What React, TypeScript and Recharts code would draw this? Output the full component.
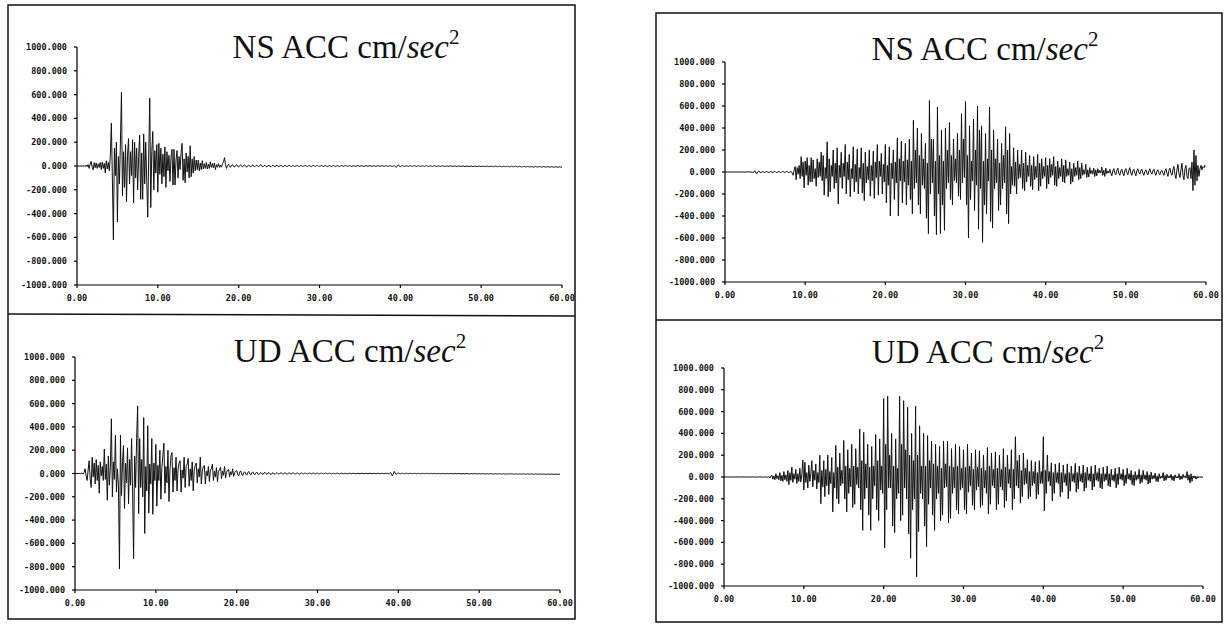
import React from "react";
import { LineChart, Line, XAxis, YAxis } from "recharts";

// sampling interval of the digitised records (seconds); one row = one second
const DT = 0.125;
const X_TICKS = [0, 10, 20, 30, 40, 50, 60];
const Y_TICKS = [-1000, -800, -600, -400, -200, 0, 200, 400, 600, 800, 1000];

// Left record, NS component (cm/sec^2)
const NS_LEFT = [
  0, 2, -3, 2, -4, 3, -2, 4,
  -5, 8, -6, 12, -20, 15, 38, -10,
  -32, 28, -14, 26, -20, 18, -12, 30,
  -30, 34, -20, 22, -58, 44, -25, 30,
  -40, 90, 360, -100, -620, 150, -80, 200,
  -470, 80, -150, 210, 620, -250, 120, -180,
  180, -300, 90, 230, -150, 120, -80, 220,
  -310, 200, -100, 150, -200, 80, 260, -280,
  110, -280, 270, -150, 200, -120, -430, 100,
  570, -350, 120, 290, -200, 130, -60, 180,
  -220, 190, -70, 150, -150, 100, -90, 160,
  -180, 120, -40, 90, -130, 70, 140, -160,
  140, -160, 50, 130, -100, 80, -30, 110,
  190, -120, 60, -140, 110, -50, 80, -100,
  170, -90, 60, -60, 80, -40, 50, -30,
  50, -40, 25, -30, 45, -25, 20, -20,
  30, -25, 15, -20, 35, -12, 20, -15,
  25, -30, 12, -10, 20, -12, 8, -10,
  20, 35, 70, 10, -20, 5, 15, -6,
  -10, 6, 12, -4, -8, 5, 10, -3,
  -9, 4, 11, -3, -7, 5, 8, -4,
  -10, 3, 6, -2, -8, 4, 9, -3,
  -6, 3, 7, -2, -5, 6, 12, -3,
  -7, 2, 6, -3, -8, 3, 5, -2,
  -6, 3, 7, -2, -5, 2, 6, -2,
  -4, 2, 5, -3, -6, 2, 4, -1,
  -5, 3, 6, -2, -4, 1, 5, -2,
  -3, 2, 4, -2, -5, 2, 4, -1,
  -3, 2, 5, -2, -4, 1, 3, -1,
  -5, 2, 4, -1, -3, 2, 4, -1,
  -3, 1, 4, -2, -4, 1, 3, -1,
  -5, 1, 3, -2, -3, 2, 4, -1,
  -3, 1, 2, -1, -4, 1, 3, -1,
  -2, 2, 4, -1, -3, 1, 3, -1,
  -4, 1, 2, -1, -3, 1, 3, -1,
  -3, 1, 2, -1, -4, 1, 3, -1,
  -2, 1, 3, -1, -3, 1, 2, -1,
  -3, 1, 3, -1, -2, 1, 3, -1,
  -4, 1, 2, -1, -3, 1, 2, -1,
  -3, 0, 3, -4, -12, 2, 10, -2,
  -6, 1, 4, -1, -3, 0, 2, -1,
  -3, 0, 2, -1, -2, 0, 3, -1,
  -4, 0, 2, -1, -3, 0, 1, -1,
  -3, 0, 2, -1, -4, 0, 1, -1,
  -3, 0, 2, -1, -4, 0, 1, -2,
  -3, 0, 1, -1, -4, -1, 0, -2,
  -3, -1, 1, -1, -4, -1, 0, -2,
  -5, -1, 1, -2, -4, -1, 0, -2,
  -5, -2, 0, -2, -4, -2, -1, -3,
  -5, -2, 0, -3, -6, -2, -1, -3,
  -5, -3, -2, -3, -6, -3, -1, -4,
  -5, -3, -2, -4, -7, -3, -1, -4,
  -6, -3, -2, -4, -7, -4, -2, -4,
  -6, -4, -3, -5, -8, -4, -2, -5,
  -7, -4, -3, -5, -8, -5, -3, -5,
  -9, -5, -4, -6, -8, -5, -4, -6,
  -9, -6, -5, -7, -10, -6, -4, -7,
  -9, -6, -5, -7, -10, -6, -5, -7,
  -11, -7, -5, -8, -10, -7, -6, -8,
  -11, -7, -6, -8, -12, -8, -6, -9,
  -12,
];

// Left record, UD component
const UD_LEFT = [
  0, 0, 1, -1, 2, -3, 1, 5,
  -4, 10, 40, -20, -60, 30, 110, -40,
  -120, 140, -30, 90, -90, 120, -60, 70,
  -170, 100, -20, 60, -60, 210, -50, 80,
  -230, 150, -100, 60, 470, -200, 100, -50,
  330, -160, 40, -100, -820, 330, -190, 90,
  240, -300, 90, -80, 220, -260, 120, -100,
  300, -150, -730, 150, -120, 300, 580, -345,
  300, -120, 120, -200, 480, -515, 60, -150,
  410, -340, 80, -90, 300, -350, 90, -60,
  250, -280, 70, -60, 200, -220, 50, 160,
  260, -170, 60, -80, 200, -240, 30, 150,
  180, -160, 50, -60, 140, -150, 40, 90,
  110, -160, 30, -40, 140, -120, 60, 80,
  130, -110, 40, -60, 100, -150, 30, 70,
  90, -80, 40, -30, 140, -90, 20, 60,
  70, -90, 20, -20, 60, -70, 30, 40,
  80, -60, 20, -30, 50, -70, 20, 30,
  55, -45, 20, -15, 60, -40, 10, 30,
  35, -30, 15, -10, 40, -25, 8, 20,
  25, -8, -20, 10, 22, -6, -18, 6,
  15, -5, -14, 8, 18, -4, -12, 5,
  14, -3, -10, 5, 12, -4, -10, 3,
  9, -3, -8, 4, 10, -2, -7, 3,
  8, -2, -9, 3, 6, -3, -7, 2,
  8, -2, -6, 3, 7, -1, -5, 2,
  6, -2, -6, 2, 5, -1, -4, 2,
  6, -1, -5, 2, 4, -1, -5, 1,
  5, -1, -4, 2, 3, -1, -4, 1,
  5, -1, -3, 1, 4, -1, -3, 1,
  3, -1, -4, 1, 3, -1, -3, 1,
  4, -1, -2, 1, 3, -1, -3, 1,
  2, -1, -3, 1, 3, -1, -2, 1,
  3, -1, -3, 1, 2, -1, -2, 0,
  3, -1, -2, 1, 2, -1, -3, 0,
  2, -1, -2, 1, 3, 0, -2, 0,
  2, -1, -3, 1, 2, 0, -2, 0,
  3, -1, -2, 1, 2, 0, -2, 0,
  3, -1, -2, 1, 2, 0, -3, 0,
  8, 2, -20, -6, 18, 4, -8, 1,
  4, 0, -3, 1, 2, 0, -2, 0,
  3, 0, -2, 0, 2, 0, -1, 0,
  2, 0, -2, 0, 1, 0, -2, 0,
  2, 0, -1, 0, 1, 0, -2, 0,
  1, 0, -2, 0, 1, -1, -2, 0,
  0, -1, -2, -1, 1, -1, -3, -1,
  0, -1, -2, -1, 0, -1, -3, -1,
  0, -1, -3, -1, 0, -2, -3, -1,
  -1, -2, -3, -1, 0, -2, -4, -2,
  -1, -2, -3, -2, -1, -2, -4, -2,
  -2, -2, -4, -2, -1, -3, -5, -2,
  -2, -3, -4, -2, -2, -3, -5, -3,
  -2, -3, -5, -3, -3, -3, -5, -3,
  -2, -4, -6, -3, -3, -4, -5, -3,
  -3, -4, -6, -4, -3, -4, -6, -4,
  -4, -4, -6, -4, -3, -5, -7, -4,
  -4, -5, -6, -4, -4, -5, -7, -4,
  -4, -5, -7, -5, -5, -5, -7, -5,
  -4, -6, -8, -5, -5, -6, -7, -5,
  -5, -6, -8, -5, -5, -6, -8, -6,
  -6,
];

// Right record, NS component
const NS_RIGHT = [
  0, 1, -1, 2, -2, 1, -1, 2,
  -2, 1, -2, 3, -3, 2, -1, 2,
  -3, 2, -2, 1, -3, 2, -2, 3,
  -2, 3, -4, 2, -8, 6, 10, -12,
  -12, 4, 8, -5, -5, 2, 3, -3,
  -3, 2, 4, -3, -5, 3, 3, -2,
  -4, 3, 6, -3, -5, 2, 4, -3,
  -6, 4, 5, -3, -4, 3, 6, -4,
  -7, 3, 5, -10, -30, 20, 50, -70,
  40, -20, 60, -60, 140, -40, 90, -145,
  100, -30, 130, -120, 60, -90, 130, -90,
  110, -60, 30, -130, 120, -50, 90, -40,
  180, -80, 150, -210, 40, -60, 275, -225,
  120, -180, 60, -40, 200, -150, 80, -100,
  220, -290, 60, -50, 180, -150, 80, -40,
  250, -200, 90, -70, 160, -225, 30, -60,
  230, -180, 70, -90, 210, -200, 40, -60,
  220, -190, 80, -260, 180, -100, 50, -70,
  200, -220, 60, -80, 190, -240, 90, -50,
  250, -210, 100, -40, 170, -200, 70, -90,
  250, -280, 60, -120, 230, -400, 80, -60,
  200, -250, 90, -100, 310, -400, 120, -80,
  280, -280, 100, -90, 260, -300, 110, -120,
  300, -250, 100, -380, 470, -150, 200, -100,
  400, -300, 150, -380, 350, -120, 120, -150,
  260, -420, 80, -560, 650, -200, 300, -100,
  300, -400, 100, -570, 590, -200, 150, -560,
  380, -300, 100, -530, 400, -150, 200, -100,
  450, -250, 150, -300, 300, -80, 120, -100,
  350, -220, 200, -250, 530, -100, 300, -50,
  640, -300, 150, -600, 420, -250, 100, -80,
  480, -350, 200, -120, 600, -520, 380, -150,
  420, -640, 100, -300, 350, -380, 120, -80,
  590, -450, 200, -510, 380, -150, 120, -100,
  300, -350, 80, -300, 260, -150, 150, -100,
  410, -380, 200, -470, 350, -200, 50, -120,
  220, -130, 90, -200, 200, -60, 70, -50,
  200, -150, 80, -170, 180, -90, 60, -40,
  150, -130, 60, -160, 140, -70, 50, -50,
  160, -170, 80, -130, 120, -60, 50, -40,
  130, -150, 60, -110, 120, -50, 70, -30,
  140, -120, 50, -130, 100, -60, 40, -40,
  120, -90, 60, -100, 110, -40, 30, -30,
  90, -110, 30, -90, 80, -40, 40, -30,
  100, -70, 40, -60, 80, -30, 20, -20,
  70, -50, 20, -45, 40, -15, 15, -20,
  35, -40, 20, -35, 30, -10, 15, -10,
  45, -30, 15, -40, 35, -15, 10, -10,
  25, -10, -35, 10, 30, -10, -25, 15,
  35, -10, -30, 10, 25, -10, -35, 10,
  30, -5, -25, 15, 40, -10, -30, 10,
  25, -10, -35, 10, 30, -5, -20, 10,
  25, -10, -30, 5, 20, -10, -25, 10,
  30, -5, -20, 10, 25, -10, -30, 5,
  20, -10, -25, 5, 15, -10, -30, 10,
  30, -10, -40, 15, 35, -10, -30, 20,
  50, -20, -60, 20, 70, -15, -50, 20,
  80, -30, -70, 30, 60, -40, -60, 30,
  40, -60, 90, -170, 200, -120, 150, -80,
  60, -40, 30, 60, 20, 50, 40, 60,
  50,
];

// Right record, UD component
const UD_RIGHT = [
  0, 1, -1, 1, -1, 1, -1, 1,
  -1, 1, -2, 1, -1, 2, -1, 1,
  -2, 1, -1, 2, -1, 1, -2, 1,
  -1, 2, -2, 1, -1, 2, -1, 1,
  -2, 1, -2, 2, -1, 2, -2, 1,
  -2, 3, -3, 2, -4, 5, -10, 8,
  15, -20, 10, -25, 30, -15, 12, -25,
  40, -35, 15, -40, 50, -25, 20, -40,
  60, -70, 40, -30, 90, -50, 30, -20,
  70, -60, 30, -40, 80, -45, 20, 155,
  -120, 135, -50, 40, -100, 110, -40, 30,
  150, -90, 60, -30, 120, -110, 40, -50,
  200, -245, 60, -90, 150, -180, 70, -80,
  200, -160, 50, -60, 180, -320, 40, -100,
  290, -200, 90, -245, 220, -80, 60, -60,
  335, -200, 100, -320, 250, -150, 80, -90,
  300, -280, 100, -250, 260, -70, 90, -100,
  440, -300, 150, -490, 410, -200, 120, -100,
  300, -350, 90, -490, 280, -200, 100, -80,
  390, -300, 150, -400, 350, -120, 100, -150,
  720, -650, 300, -300, 740, -100, 200, -100,
  400, -450, 100, -510, 350, -200, 80, -150,
  740, -400, 300, -350, 700, -100, 250, -200,
  640, -520, 200, -745, 400, -300, 150, -200,
  650, -915, 200, -500, 470, -150, 100, -200,
  400, -450, 100, -640, 380, -250, 150, -100,
  330, -350, 120, -490, 300, -200, 100, -150,
  280, -400, 80, -350, 330, -100, 120, -90,
  330, -420, 100, -380, 260, -150, 90, -100,
  300, -300, 100, -340, 280, -120, 80, -100,
  250, -300, 90, -340, 300, -140, 100, -80,
  220, -260, 70, -300, 250, -120, 90, -90,
  240, -280, 80, -260, 200, -100, 60, -150,
  270, -340, 100, -250, 220, -80, 70, -100,
  230, -300, 80, -250, 200, -90, 70, -120,
  260, -280, 90, -220, 200, -60, 70, -100,
  250, -300, 70, -200, 370, -80, 150, -100,
  200, -240, 60, -180, 220, -70, 80, -60,
  160, -200, 50, -180, 150, -80, 50, -60,
  140, -200, 40, -160, 150, -60, 50, -60,
  370, -310, 60, -150, 200, -40, 50, -80,
  130, -220, 40, -150, 120, -50, 40, -60,
  130, -180, 40, -140, 110, -50, 30, -80,
  120, -200, 40, -130, 100, -40, 30, -50,
  125, -140, 40, -110, 100, -40, 30, -50,
  110, -130, 40, -100, 90, -30, 30, -40,
  100, -120, 30, -90, 110, -30, 40, -40,
  80, -100, 30, -110, 90, -40, 30, -30,
  100, -80, 30, -90, 70, -30, 20, -40,
  80, -100, 30, -70, 90, -20, 30, -30,
  70, -80, 20, -60, 80, -20, 30, -30,
  60, -70, 20, -80, 50, -30, 20, -20,
  70, -60, 20, -50, 60, -20, 20, -30,
  50, -65, 20, -55, 45, -20, 15, -15,
  35, -40, 10, -45, 30, -15, 10, -10,
  40, -35, 15, -30, 25, -10, 10, -10,
  25, -30, 10, -35, 20, -10, 5, -10,
  30, -25, 10, -20, 25, -5, 10, -10,
  50, -30, 20, -55, 30, -40, 10, -10,
  10, -20, 5, -10, 5, -5, 3, -2,
  0,
];

const ML = 70;
const MR = 22;
const MT = 10;
const MB = 30;

const tickStyle = {
  fill: "#111",
  fontSize: 8.5,
  fontFamily: "DejaVu Sans Mono",
  fontWeight: "bold" as const,
};

type PanelProps = { values: number[]; l: number; t: number; r: number; b: number };

function Panel({ values, l, t, r, b }: PanelProps) {
  const w = r - l + ML + MR;
  const h = b - t + MT + MB;
  const data = values.map((v, i) => ({ t: i * DT, v }));
  return (
    <div style={{ position: "absolute", left: l - ML, top: t - MT }}>
      <LineChart width={w} height={h} data={data} margin={{ top: MT, right: MR, bottom: 0, left: 0 }}>
        <XAxis
          dataKey="t"
          type="number"
          domain={[0, 60]}
          ticks={X_TICKS}
          interval={0}
          allowDataOverflow
          tickFormatter={(v: number) => v.toFixed(2)}
          height={MB}
          tickSize={3}
          tickMargin={7}
          stroke="#000"
          strokeWidth={1.2}
          tick={tickStyle}
        />
        <YAxis
          type="number"
          domain={[-1000, 1000]}
          ticks={Y_TICKS}
          interval={0}
          allowDataOverflow
          tickFormatter={(v: number) => v.toFixed(3)}
          width={ML}
          tickSize={3}
          tickMargin={7}
          stroke="#000"
          strokeWidth={1.2}
          tick={tickStyle}
        />
        <Line
          type="linear"
          dataKey="v"
          stroke="#111"
          strokeWidth={1}
          dot={false}
          isAnimationActive={false}
        />
      </LineChart>
    </div>
  );
}

function Title({ x, y, label }: { x: number; y: number; label: string }) {
  return (
    <text x={x} y={y} textAnchor="middle" fontFamily="Liberation Serif" fontSize={33} fill="#111">
      {label + " ACC cm/"}
      <tspan fontStyle="italic">sec</tspan>
      <tspan fontSize={21} dy={-14}>2</tspan>
    </text>
  );
}

export default function App() {
  return (
    <div style={{ position: "absolute", left: 0, top: 0, width: 1226, height: 624, background: "#fff", overflow: "hidden" }}>
      <Panel values={NS_LEFT} l={77} t={47} r={562} b={285} />
      <Panel values={UD_LEFT} l={75} t={357} r={560} b={590} />
      <Panel values={NS_RIGHT} l={725} t={62} r={1206} b={282} />
      <Panel values={UD_RIGHT} l={724} t={368} r={1203} b={586} />
      <svg width={1226} height={624} style={{ position: "absolute", left: 0, top: 0, pointerEvents: "none" }}>
        <rect x={8} y={5} width={567} height={614} fill="none" stroke="#111" strokeWidth={1.5} />
        <line x1={8} y1={314} x2={575} y2={316} stroke="#111" strokeWidth={1.5} />
        <rect x={656} y={13} width={566} height={609} fill="none" stroke="#111" strokeWidth={1.5} />
        <line x1={656} y1={320} x2={1222} y2={320} stroke="#111" strokeWidth={1.5} />
        <Title x={346} y={58} label="NS" />
        <Title x={350} y={362} label="UD" />
        <Title x={985} y={60} label="NS" />
        <Title x={988} y={363} label="UD" />
      </svg>
    </div>
  );
}
